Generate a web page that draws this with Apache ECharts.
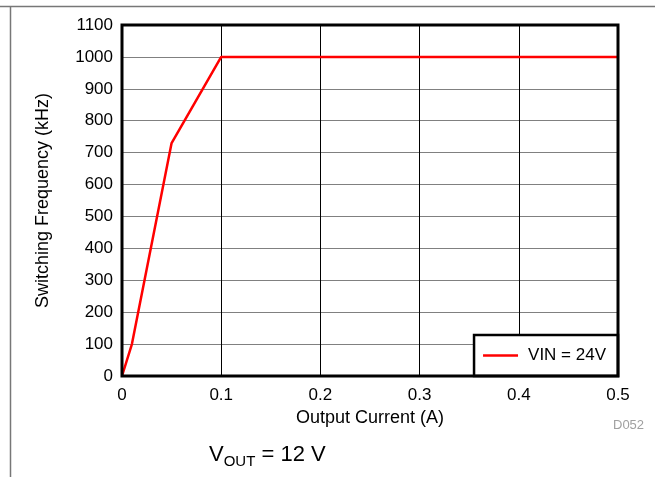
<!DOCTYPE html>
<html>
<head>
<meta charset="utf-8">
<script src="https://cdn.jsdelivr.net/npm/echarts@6/dist/echarts.min.js"></script>
<style>
  html, body { margin: 0; padding: 0; background: #fff; }
  #chart { width: 655px; height: 477px; }
</style>
</head>
<body>
<div id="chart"></div>
<script>
// switching frequency vs output current, VOUT = 12 V
const currentA = [0, 0.01, 0.05, 0.1, 0.2, 0.3, 0.4, 0.5];
const freqKHz = [0, 100, 730, 1000, 1000, 1000, 1000, 1000];
const seriesName = 'VIN = 24V';

const FONT = '"Liberation Sans", Arial, Helvetica, sans-serif';
const chart = echarts.init(document.getElementById('chart'));

const option = {
  animation: false,
  textStyle: { fontFamily: FONT },
  grid: { left: 122, right: 37, top: 25, bottom: 101 },
  legend: {
    data: [seriesName],
    right: 37,
    bottom: 101,
    orient: 'vertical',
    backgroundColor: '#fff',
    borderColor: '#000',
    borderWidth: 2.5,
    padding: [12, 12, 12, 9],
    itemWidth: 35,
    itemHeight: 2.5,
    itemGap: 0,
    icon: 'rect',
    textStyle: { fontSize: 17, color: '#000', fontFamily: FONT, padding: [0, 0, 0, 5] }
  },
  xAxis: {
    type: 'value',
    min: 0,
    max: 0.5,
    interval: 0.1,
    name: 'Output Current (A)',
    nameLocation: 'middle',
    nameGap: 31,
    nameTextStyle: { fontSize: 18, color: '#000' },
    axisLine: { show: false },
    axisTick: { show: false },
    axisLabel: { fontSize: 17, color: '#000', margin: 11 },
    splitLine: { show: true, lineStyle: { color: '#000', width: 1 } }
  },
  yAxis: {
    type: 'value',
    min: 0,
    max: 1100,
    interval: 100,
    name: 'Switching Frequency (kHz)',
    nameLocation: 'middle',
    nameGap: 70,
    nameTextStyle: { fontSize: 18, color: '#000' },
    axisLine: { show: false },
    axisTick: { show: false },
    axisLabel: { fontSize: 17, color: '#000', margin: 9, formatter: v => String(v) },
    splitLine: { show: true, lineStyle: { color: '#808080', width: 1 } }
  },
  series: [{
    name: seriesName,
    type: 'line',
    data: currentA.map((x, i) => [x, freqKHz[i]]),
    showSymbol: false,
    lineStyle: { color: '#ff0000', width: 2.5 },
    itemStyle: { color: '#ff0000' },
    z: 3
  }]
};
chart.setOption(option);

// plot frame drawn on top, from the grid's pixel box
const p0 = chart.convertToPixel({ gridIndex: 0 }, [0, 0]);
const p1 = chart.convertToPixel({ gridIndex: 0 }, [0.5, 1100]);
chart.setOption({
  graphic: [
    { type: 'line', z: 100, shape: { x1: 0, y1: 6.5, x2: 655, y2: 6.5 }, style: { stroke: '#777', lineWidth: 1.5 } },
    { type: 'line', z: 100, shape: { x1: 10.5, y1: 6, x2: 10.5, y2: 477 }, style: { stroke: '#777', lineWidth: 1.5 } },
    {
      type: 'rect', z: 100,
      shape: { x: p0[0], y: p1[1], width: p1[0] - p0[0], height: p0[1] - p1[1] },
      style: { fill: null, stroke: '#000', lineWidth: 3 }
    },
    {
      type: 'text', z: 100, left: 613, top: 419,
      style: { text: 'D052', fill: '#a0a0a0', font: '13px ' + FONT }
    },
    {
      type: 'text', z: 100, left: 209, top: 444,
      style: {
        text: '{m|V}{s|OUT}{m| = 12 V}',
        fill: '#000',
        rich: {
          m: { fontSize: 22, fontFamily: FONT, fill: '#000', verticalAlign: 'top' },
          s: { fontSize: 15, fontFamily: FONT, fill: '#000', padding: [10, 0, 0, 0], verticalAlign: 'bottom' }
        }
      }
    }
  ]
});
</script>
</body>
</html>
